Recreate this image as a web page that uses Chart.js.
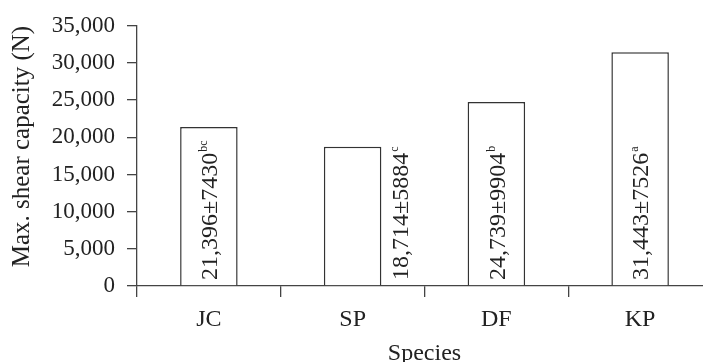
<!DOCTYPE html>
<html>
<head>
<meta charset="utf-8">
<script src="https://cdn.jsdelivr.net/npm/chart.js@4/dist/chart.umd.min.js"></script>
<style>
  html, body { margin: 0; padding: 0; background: #ffffff; overflow: hidden; }
  #wrap { width: 703px; height: 362px; overflow: hidden; }
  #c { display: block; }
</style>
</head>
<body>
<!-- the plot runs slightly past the right edge, so the canvas is a little wider than the frame -->
<div id="wrap"><canvas id="c" width="712" height="362"></canvas></div>
<script>
// Maximum shear capacity per species (mean ± SD, with significance groups)
const species = ['JC', 'SP', 'DF', 'KP'];
const meanShear = [21396, 18714, 24739, 31443];
const sdShear = [7430, 5884, 9904, 7526];
const groupLetters = ['bc', 'c', 'b', 'a'];
const yTickValues = [0, 5000, 10000, 15000, 20000, 25000, 30000, 35000];

const SERIF = '"Liberation Serif", "Times New Roman", Times, serif';
const INK = '#222222';
const LINE = '#444444';

const fmt = v => v.toLocaleString('en-US');

// Rotated "mean ± SD" note with superscript letters, drawn on each bar
const barNotes = {
  id: 'barNotes',
  afterDatasetsDraw(chart, args, opts) {
    const ctx = chart.ctx;
    const meta = chart.getDatasetMeta(0);
    const yBase = chart.scales.y.getPixelForValue(0) - 6;
    meta.data.forEach((bar, i) => {
      const props = bar.getProps(['x', 'width'], true);
      let x = props.x + 1;
      if (opts.outside.includes(i)) x = props.x + props.width / 2 + opts.gap;
      const main = fmt(meanShear[i]) + '\u00B1' + sdShear[i];
      ctx.save();
      ctx.translate(x, yBase);
      ctx.rotate(-Math.PI / 2);
      ctx.fillStyle = INK;
      ctx.textAlign = 'left';
      ctx.textBaseline = 'middle';
      ctx.font = '24px ' + SERIF;
      ctx.fillText(main, 0, 1);
      const w = ctx.measureText(main).width;
      ctx.font = '12px ' + SERIF;
      ctx.fillText(groupLetters[i], w + 1, -6);
      ctx.restore();
    });
  }
};

new Chart(document.getElementById('c'), {
  type: 'bar',
  data: {
    labels: species,
    datasets: [{
      data: meanShear,
      backgroundColor: '#ffffff',
      borderColor: '#333333',
      borderWidth: 1.5,
      barPercentage: 0.4,
      categoryPercentage: 1.0
    }]
  },
  options: {
    responsive: false,
    animation: false,
    devicePixelRatio: 1,
    layout: { padding: { top: 24, right: 0, bottom: 0, left: 0 } },
    plugins: {
      legend: { display: false },
      tooltip: { enabled: false },
      barNotes: { outside: [1], gap: 19 }
    },
    scales: {
      x: {
        grid: {
          display: true,
          offset: true,
          drawOnChartArea: false,
          drawTicks: true,
          tickLength: 11,
          color: LINE,
          lineWidth: 1.3
        },
        border: { display: true, color: LINE, width: 1.3 },
        ticks: {
          color: INK,
          font: { family: SERIF, size: 24 },
          padding: 8
        },
        title: {
          display: true,
          text: 'Species',
          color: INK,
          font: { family: SERIF, size: 24, lineHeight: 1.2 },
          padding: { top: 0, bottom: -6 }
        },
        afterFit(scale) { scale.height = 76; }
      },
      y: {
        min: 0,
        max: 35000,
        afterBuildTicks(scale) { scale.ticks = yTickValues.map(v => ({ value: v })); },
        grid: {
          display: true,
          drawOnChartArea: false,
          drawTicks: true,
          tickLength: 10,
          color: LINE,
          lineWidth: 1.3
        },
        border: { display: true, color: LINE, width: 1.3 },
        ticks: {
          color: INK,
          font: { family: SERIF, size: 23 },
          padding: 12,
          callback: v => fmt(v)
        },
        title: {
          display: true,
          text: 'Max. shear capacity (N)',
          align: 'end',
          color: INK,
          font: { family: SERIF, size: 25, lineHeight: 1.2 },
          padding: { top: 7, bottom: 0 }
        },
        afterFit(scale) { scale.width = 137; }
      }
    }
  },
  plugins: [barNotes]
});
</script>
</body>
</html>
